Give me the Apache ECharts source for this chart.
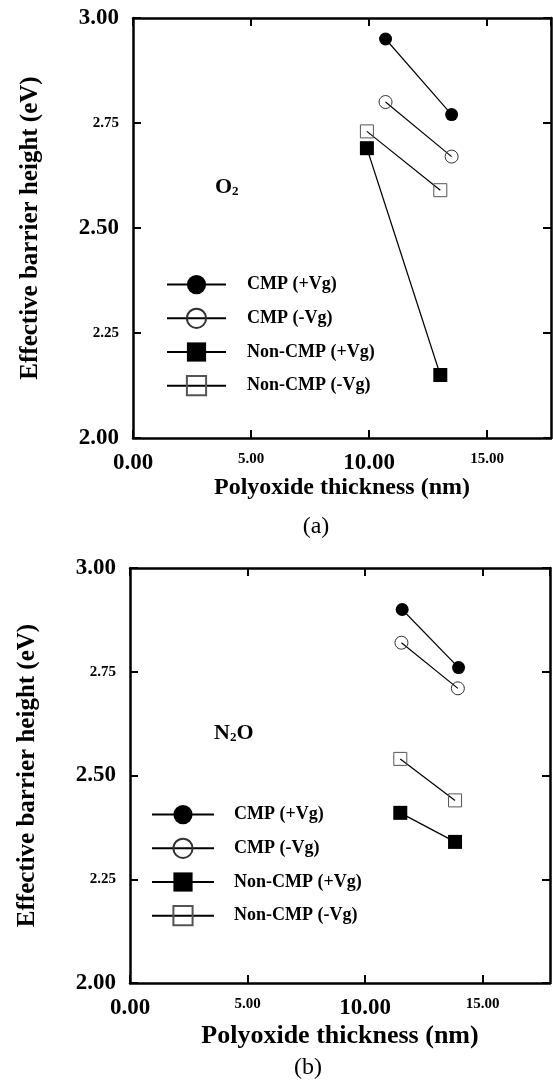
<!DOCTYPE html>
<html>
<head>
<meta charset="utf-8">
<script src="https://cdn.jsdelivr.net/npm/echarts@6/dist/echarts.min.js"></script>
<style>
  html, body { margin: 0; padding: 0; background: #fff; }
  #container { width: 553px; height: 1081px; }
</style>
</head>
<body>
<div id="container"></div>
<script>
// series names (same for both panels)
var names = ['CMP (+Vg)', 'CMP (-Vg)', 'Non-CMP (+Vg)', 'Non-CMP (-Vg)'];

// (a) O2 panel: [thickness nm, barrier eV]
var o2CmpPos = [[10.70, 2.95], [13.50, 2.77]];
var o2CmpNeg = [[10.70, 2.80], [13.50, 2.67]];
var o2NonPos = [[9.91, 2.69], [13.02, 2.15]];
var o2NonNeg = [[9.91, 2.73], [13.02, 2.59]];

// (b) N2O panel
var n2oCmpPos = [[11.58, 2.90], [13.98, 2.76]];
var n2oCmpNeg = [[11.55, 2.82], [13.95, 2.71]];
var n2oNonPos = [[11.50, 2.41], [13.83, 2.34]];
var n2oNonNeg = [[11.50, 2.54], [13.83, 2.44]];

var FONT = 'Liberation Serif';

var dom = document.getElementById('container');
var myChart = echarts.init(dom);

function xLabel(v) {
    if (Math.abs(v / 5 - Math.round(v / 5)) > 1e-6) return '';
    return (Math.round(v) % 10 === 0 ? '{b|' : '{s|') + v.toFixed(2) + '}';
}
function yLabel(v) {
    var r = Math.round(v * 100);
    return (r % 50 === 0 ? '{b|' : '{s|') + v.toFixed(2) + '}';
}
var labRich = {
    b: { fontFamily: FONT, fontWeight: 'bold', fontSize: 23, color: '#000' },
    s: { fontFamily: FONT, fontWeight: 'bold', fontSize: 15, color: '#000' }
};

function bottomAxis(gi, max, gap, nameSize) {
    return {
        type: 'value', gridIndex: gi, min: 0, max: max, interval: 5,
        name: 'Polyoxide thickness (nm)', nameLocation: 'middle', nameGap: gap,
        nameTextStyle: { fontFamily: FONT, fontWeight: 'bold', fontSize: nameSize, color: '#000' },
        axisLine: { onZero: false, lineStyle: { color: '#000', width: 2.5 } },
        axisTick: { inside: true, length: 8, lineStyle: { color: '#000', width: 2 } },
        axisLabel: { formatter: xLabel, rich: labRich, margin: 14, showMaxLabel: false },
        splitLine: { show: false }
    };
}
function topAxis(gi, max) {
    return {
        type: 'value', gridIndex: gi, position: 'top', min: 0, max: max, interval: 5,
        axisLine: { onZero: false, lineStyle: { color: '#000', width: 2.5 } },
        axisTick: { inside: true, length: 8, lineStyle: { color: '#000', width: 2 } },
        axisLabel: { show: false }, splitLine: { show: false }
    };
}
function leftAxis(gi) {
    return {
        type: 'value', gridIndex: gi, min: 2, max: 3, interval: 0.25,
        name: 'Effective barrier height (eV)', nameLocation: 'middle', nameGap: 90,
        nameTextStyle: { fontFamily: FONT, fontWeight: 'bold', fontSize: 25, color: '#000' },
        axisLine: { onZero: false, lineStyle: { color: '#000', width: 2.5 } },
        axisTick: { inside: true, length: 8, lineStyle: { color: '#000', width: 2 } },
        axisLabel: { formatter: yLabel, rich: labRich, margin: 14 },
        splitLine: { show: false }
    };
}
function rightAxis(gi) {
    return {
        type: 'value', gridIndex: gi, position: 'right', min: 2, max: 3, interval: 0.25,
        axisLine: { onZero: false, lineStyle: { color: '#000', width: 2.5 } },
        axisTick: { inside: true, length: 8, lineStyle: { color: '#000', width: 2 } },
        axisLabel: { show: false }, splitLine: { show: false }
    };
}

var styles = [
    { symbol: 'circle', size: 13, fill: '#000', border: '#000', bw: 0 },
    { symbol: 'circle', size: 13, fill: 'rgba(0,0,0,0)', border: '#333', bw: 1 },
    { symbol: 'rect', size: 14, fill: '#000', border: '#000', bw: 0 },
    { symbol: 'rect', size: 13, fill: 'rgba(0,0,0,0)', border: '#555', bw: 1 }
];

function mk(i, data, ai) {
    var s = styles[i];
    return {
        name: names[i], type: 'line', xAxisIndex: ai, yAxisIndex: ai,
        data: data, symbol: s.symbol, symbolSize: s.size, showSymbol: true,
        lineStyle: { color: '#000', width: 1.2 },
        itemStyle: { color: s.fill, borderColor: s.border, borderWidth: s.bw },
        emphasis: { disabled: true }, z: 3
    };
}

function legendAt(left, top, itemWidth, pad, gap) {
    return {
        orient: 'vertical', left: left, top: top, itemWidth: itemWidth, itemHeight: 24, itemGap: gap,
        data: names, selectedMode: false,
        formatter: function (n) { return '{p|}' + n; },
        textStyle: {
            fontFamily: FONT, fontWeight: 'bold', fontSize: 18, color: '#000',
            rich: { p: { width: pad } }
        }
    };
}

option = {
    backgroundColor: '#FFFFFF',
    animation: false,
    grid: [
        { left: 133, top: 18, width: 418, height: 420, containLabel: false, outerBoundsMode: 'none' },
        { left: 130, top: 568, width: 420, height: 415, containLabel: false, outerBoundsMode: 'none' }
    ],
    xAxis: [bottomAxis(0, 17.71, 36, 24), topAxis(0, 17.71), bottomAxis(1, 17.87, 40, 26), topAxis(1, 17.87)],
    yAxis: [leftAxis(0), rightAxis(0), leftAxis(1), rightAxis(1)],
    legend: [legendAt(161, 270, 59, 16, 13.5), legendAt(146, 800, 62, 15, 13.5)],
    graphic: [
        { type: 'text', left: 215, top: 176, style: { text: '{a|O}{s|2}', rich: {
            a: { fontFamily: FONT, fontWeight: 'bold', fontSize: 22, fill: '#000', verticalAlign: 'bottom' },
            s: { fontFamily: FONT, fontWeight: 'bold', fontSize: 13, fill: '#000', verticalAlign: 'bottom' } } } },
        { type: 'text', left: 214, top: 722, style: { text: '{a|N}{s|2}{a|O}', rich: {
            a: { fontFamily: FONT, fontWeight: 'bold', fontSize: 22, fill: '#000', verticalAlign: 'bottom' },
            s: { fontFamily: FONT, fontWeight: 'bold', fontSize: 13, fill: '#000', verticalAlign: 'bottom' } } } },
        { type: 'text', x: 316, y: 527, style: { text: '(a)', font: '24px "Liberation Serif"', fill: '#000', align: 'center', verticalAlign: 'middle' } },
        { type: 'text', x: 308, y: 1068, style: { text: '(b)', font: '24px "Liberation Serif"', fill: '#000', align: 'center', verticalAlign: 'middle' } }
    ],
    series: [
        mk(0, o2CmpPos, 0), mk(1, o2CmpNeg, 0), mk(2, o2NonPos, 0), mk(3, o2NonNeg, 0),
        mk(0, n2oCmpPos, 2), mk(1, n2oCmpNeg, 2), mk(2, n2oNonPos, 2), mk(3, n2oNonNeg, 2)
    ]
};
if (option && typeof option === "object") {
    myChart.setOption(option, true);
    window.onresize = function () {
        myChart.resize();
    };
}
</script>
</body>
</html>
